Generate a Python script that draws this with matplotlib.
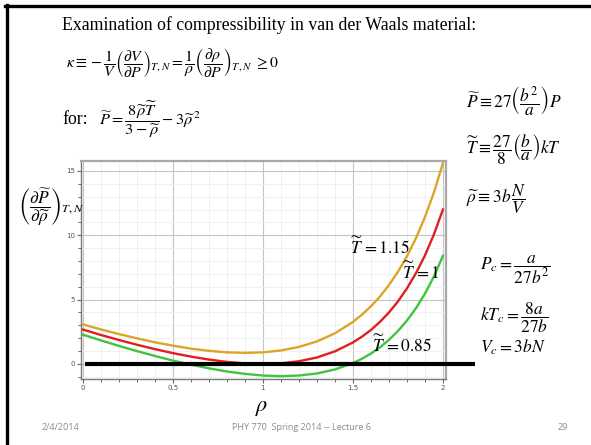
import matplotlib
matplotlib.use("Agg")
import matplotlib.pyplot as plt
from matplotlib.lines import Line2D
from matplotlib.ticker import MultipleLocator, FixedLocator

plt.rcParams['mathtext.fontset'] = 'stix'
plt.rcParams['font.family'] = ['Liberation Serif', 'DejaVu Serif']

# reduced density
rho = [0.0, 0.1, 0.2, 0.3, 0.4, 0.5, 0.6, 0.7, 0.8, 0.9, 1.0,
       1.1, 1.2, 1.3, 1.4, 1.5, 1.55, 1.6, 1.65, 1.7, 1.75,
       1.8, 1.85, 1.9, 1.95, 2.0]

# dP~/drho~ for the three reduced temperatures
dp_t115 = [3.07, 2.68, 2.32, 1.99, 1.68, 1.42, 1.19, 1.02, 0.90, 0.86, 0.90,
           1.05, 1.32, 1.75, 2.38, 3.27, 3.83, 4.48, 5.24, 6.13, 7.16,
           8.37, 9.77, 11.41, 13.33, 15.60]
dp_t100 = [2.67, 2.25, 1.86, 1.49, 1.15, 0.84, 0.57, 0.34, 0.16, 0.04, 0.00,
           0.05, 0.21, 0.50, 0.98, 1.67, 2.12, 2.64, 3.27, 4.00, 4.86,
           5.87, 7.05, 8.43, 10.07, 12.00]
dp_t085 = [2.27, 1.83, 1.40, 1.00, 0.62, 0.26, -0.06, -0.34, -0.59, -0.77, -0.90,
           -0.95, -0.90, -0.74, -0.43, 0.07, 0.40, 0.81, 1.29, 1.87, 2.56,
           3.37, 4.33, 5.46, 6.80, 8.40]

x_ticks = [0, 0.5, 1, 1.5, 2]
x_tick_labels = ["0", "0.5", "1", "1.5", "2"]
y_ticks = [0, 5, 10, 15]
y_tick_labels = ["0", "5", "10", "15"]

W, H = 591, 445
fig = plt.figure(figsize=(W / 100, H / 100), dpi=100)
fig.patch.set_facecolor('white')


def fx(x):
    return x / W


def fy(y):
    return 1 - y / H


# slide frame (top and left edges)
fig.add_artist(Line2D([fx(5), fx(591)], [fy(5.5), fy(5.5)], color='black', lw=2.4))
fig.add_artist(Line2D([fx(7), fx(7)], [fy(4.5), fy(445)], color='black', lw=2.4))

ax = fig.add_axes([fx(81), fy(379), (446 - 81) / W, (379 - 161) / H])
ax.set_xlim(-0.011, 2.017)
ax.set_ylim(-1.17, 15.77)

ax.xaxis.set_major_locator(FixedLocator(x_ticks))
ax.set_xticklabels(x_tick_labels)
ax.yaxis.set_major_locator(FixedLocator(y_ticks))
ax.set_yticklabels(y_tick_labels)
ax.xaxis.set_minor_locator(MultipleLocator(0.1))
ax.yaxis.set_minor_locator(MultipleLocator(1))

ax.grid(which='minor', color='#eeeeee', lw=0.6)
ax.grid(which='major', color='#c4c4c4', lw=0.8)
ax.set_axisbelow(True)

for side in ['top', 'right']:
    ax.spines[side].set_color('#a8a8a8')
    ax.spines[side].set_linewidth(1.6)
for side in ['left', 'bottom']:
    ax.spines[side].set_color('#777777')
    ax.spines[side].set_linewidth(1.0)

ax.tick_params(which='major', direction='out', length=3, width=0.8, color='#666666',
               labelsize=5, labelcolor='#555555', pad=1.5)
ax.tick_params(which='minor', direction='out', length=2, width=0.7, color='#666666')
for lab in ax.get_xticklabels() + ax.get_yticklabels():
    lab.set_family('DejaVu Sans')

ax.plot(rho, dp_t115, color='#dba527', lw=1.7, zorder=3)
ax.plot(rho, dp_t100, color='#e01f1f', lw=1.7, zorder=3)
ax.plot(rho, dp_t085, color='#3ec43e', lw=1.7, zorder=3)

# zero line extending past the plot
ax.plot([0.011, 2.178], [0, 0], color='black', lw=3.0, solid_capstyle='butt',
        clip_on=False, zorder=5)

FS = 12.8
MS = 12.5

# slide text
fig.text(fx(62), fy(25), "Examination of compressibility in van der Waals material:",
         fontsize=FS, va='center', ha='left')
fig.text(fx(66), fy(63),
         r'$\kappa \equiv -\dfrac{1}{V}\left(\dfrac{\partial V}{\partial P}\right)_{T,N}'
         r' = \dfrac{1}{\rho}\left(\dfrac{\partial \rho}{\partial P}\right)_{T,N}\ \geq 0$',
         fontsize=11.3, va='center', ha='left')
fig.text(fx(62), fy(120), "for:", fontsize=FS, va='center', ha='left')
fig.text(fx(99), fy(120),
         r'$\widetilde{P} = \dfrac{8\widetilde{\rho}\widetilde{T}}{3-\widetilde{\rho}} - 3\widetilde{\rho}^{\,2}$',
         fontsize=11.8, va='center', ha='left')

fig.text(fx(466), fy(100), r'$\widetilde{P} \equiv 27\left(\dfrac{b^2}{a}\right)P$',
         fontsize=MS, va='center', ha='left')
fig.text(fx(466), fy(150), r'$\widetilde{T} \equiv \dfrac{27}{8}\left(\dfrac{b}{a}\right)kT$',
         fontsize=MS, va='center', ha='left')
fig.text(fx(466), fy(199), r'$\widetilde{\rho} \equiv 3b\,\dfrac{N}{V}$',
         fontsize=MS, va='center', ha='left')

fig.text(fx(480), fy(270), r'$P_c = \dfrac{a}{27b^2}$', fontsize=MS, va='center', ha='left')
fig.text(fx(480), fy(318), r'$kT_c = \dfrac{8a}{27b}$', fontsize=MS, va='center', ha='left')
fig.text(fx(480), fy(347), r'$V_c = 3bN$', fontsize=MS, va='center', ha='left')

fig.text(fx(350), fy(247), r'$\widetilde{T}\, = 1.15$', fontsize=MS, va='center', ha='left', zorder=6)
fig.text(fx(402), fy(272), r'$\widetilde{T}\, = 1$', fontsize=MS, va='center', ha='left', zorder=6)
fig.text(fx(372), fy(345), r'$\widetilde{T}\, = 0.85$', fontsize=MS, va='center', ha='left', zorder=6)

fig.text(fx(18), fy(207),
         r'$\left(\dfrac{\partial\widetilde{P}}{\partial\widetilde{\rho}}\right)_{T,N}$',
         fontsize=MS, va='center', ha='left')
fig.text(fx(262), fy(409), r'$\rho$', fontsize=16, va='center', ha='center')

foot = dict(fontsize=6.5, color='#8a8a8a', va='center', family='Open Sans')
fig.text(fx(42), fy(428), "2/4/2014", ha='left', **foot)
fig.text(fx(301), fy(428), "PHY 770  Spring 2014 -- Lecture 6", ha='center', **foot)
fig.text(fx(563), fy(428), "29", ha='center', **foot)

fig.savefig("out.png", dpi=100)
